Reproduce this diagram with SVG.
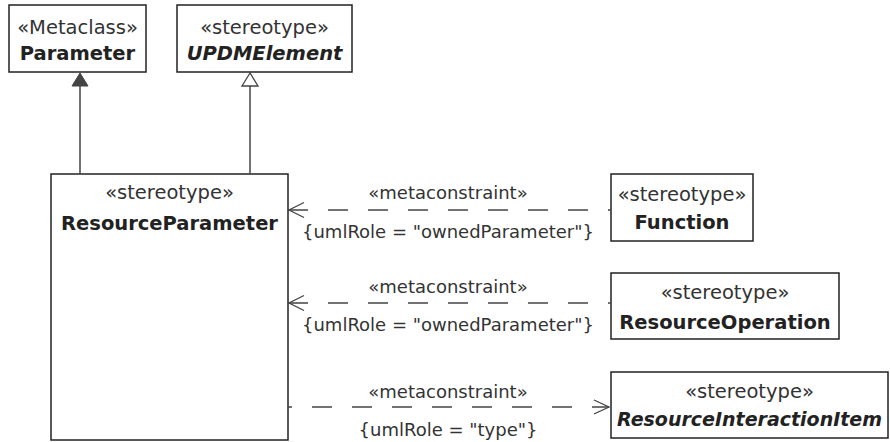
<svg xmlns="http://www.w3.org/2000/svg" width="890" height="442" viewBox="0 0 890 442">
<style>
.box{fill:#fff;stroke:#222;stroke-width:1.5}
.st{font-family:"DejaVu Sans",sans-serif;font-size:19.5px;fill:#333;text-anchor:middle}
.nm{font-family:"DejaVu Sans",sans-serif;font-size:19.5px;font-weight:bold;fill:#222;text-anchor:middle}
.it{font-style:italic}
.lbl{font-family:"DejaVu Sans",sans-serif;font-size:18px;fill:#333;text-anchor:middle}
.dep{fill:none;stroke:#444;stroke-width:1.3;stroke-dasharray:20 20}
.gen{fill:none;stroke:#444;stroke-width:1.5}
.head{fill:none;stroke:#444;stroke-width:1.3}
</style>
<rect width="890" height="442" fill="#fff"/>
<g id="Parameter">
<rect class="box" x="9" y="5" width="137" height="67"/>
<text class="st" x="77.5" y="34">«Metaclass»</text>
<text class="nm" x="77.5" y="60">Parameter</text>
</g>
<g id="UPDMElement">
<rect class="box" x="177" y="5" width="175" height="67"/>
<text class="st" x="264.5" y="34">«stereotype»</text>
<text class="nm it" x="264.5" y="60">UPDMElement</text>
</g>
<g id="ResourceParameter">
<rect class="box" x="51" y="174" width="237" height="266"/>
<text class="st" x="169.5" y="199">«stereotype»</text>
<text class="nm" x="169.5" y="230">ResourceParameter</text>
</g>
<g id="Function">
<rect class="box" x="611" y="174" width="142" height="67"/>
<text class="st" x="682" y="201">«stereotype»</text>
<text class="nm" x="682" y="229">Function</text>
</g>
<g id="ResourceOperation">
<rect class="box" x="611" y="273" width="228" height="66"/>
<text class="st" x="725" y="299">«stereotype»</text>
<text class="nm" x="725" y="329">ResourceOperation</text>
</g>
<g id="ResourceInteractionItem">
<rect class="box" x="611" y="372" width="277" height="66"/>
<text class="st" x="749.5" y="398">«stereotype»</text>
<text class="nm it" x="749.5" y="426" style="font-size:19px">ResourceInteractionItem</text>
</g>
<g id="connectors">
<line class="gen" x1="80" y1="86" x2="80" y2="174"/>
<polygon points="80,73 72,86 88,86" fill="#444" stroke="#444" stroke-width="1"/>
<line class="gen" x1="250" y1="86" x2="250" y2="174"/>
<polygon points="250,73 242,86 258,86" fill="#fff" stroke="#444" stroke-width="1.3"/>
<line class="dep" x1="288" y1="210" x2="611" y2="210"/>
<polyline class="head" points="304,202.5 289,210 304,217.5"/>
<text class="lbl" x="448" y="199">«metaconstraint»</text>
<text class="lbl" x="448" y="238">{umlRole = "ownedParameter"}</text>
<line class="dep" x1="288" y1="303" x2="611" y2="303"/>
<polyline class="head" points="304,295.5 289,303 304,310.5"/>
<text class="lbl" x="448" y="293">«metaconstraint»</text>
<text class="lbl" x="448" y="331">{umlRole = "ownedParameter"}</text>
<line class="dep" x1="288" y1="407" x2="609" y2="407" stroke-dashoffset="16"/>
<polyline class="head" points="594,400 609,407 594,414"/>
<text class="lbl" x="448" y="398">«metaconstraint»</text>
<text class="lbl" x="448" y="436">{umlRole = "type"}</text>
</g>
</svg>
